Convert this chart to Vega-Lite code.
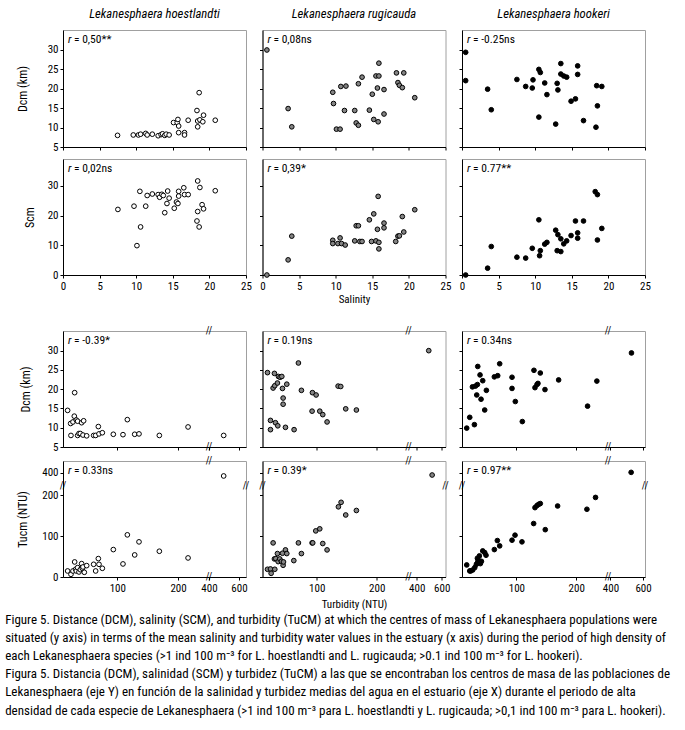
{
"$schema": "https://vega.github.io/schema/vega-lite/v6.json",
"background": "white",
"padding": {"left": 5, "top": 7, "right": 5, "bottom": 5},
"autosize": {"type": "pad"},
"config": {
  "font": "Roboto Condensed, Liberation Sans, sans-serif",
  "view": {"stroke": "#a0a0a0", "strokeWidth": 1},
  "axis": {"grid": false, "domainColor": "#000", "domainWidth": 1, "tickColor": "#000", "tickSize": 3, "tickWidth": 1, "tickCount": 20,
    "labelFont": "Roboto Condensed, Liberation Sans, sans-serif", "labelFontSize": 11, "labelColor": "#000", "labelPadding": 2, "labelFlush": false, "labelOverlap": false,
    "titleFont": "Roboto Condensed, Liberation Sans, sans-serif", "titleFontSize": 12, "titleFontWeight": "normal", "titleColor": "#000"},
  "title": {"font": "Roboto Condensed, Liberation Sans, sans-serif", "color": "#000", "fontWeight": "normal"},
  "text": {"font": "Roboto Condensed, Liberation Sans, sans-serif", "color": "#000", "fontSize": 11.5}
},
"title": {
  "text": [
    "Figure 5. Distance (DCM), salinity (SCM), and turbidity (TuCM) at which the centres of mass of Lekanesphaera populations were",
    "situated (y axis) in terms of the mean salinity and turbidity water values in the estuary (x axis) during the period of high density of",
    "each Lekanesphaera species (>1 ind 100 m⁻³ for L. hoestlandti and L. rugicauda; >0.1 ind 100 m⁻³ for L. hookeri).",
    "Figura 5. Distancia (DCM), salinidad (SCM) y turbidez (TuCM) a las que se encontraban los centros de masa de las poblaciones de",
    "Lekanesphaera (eje Y) en función de la salinidad y turbidez medias del agua en el estuario (eje X) durante el periodo de alta",
    "densidad de cada especie de Lekanesphaera (>1 ind 100 m⁻³ para L. hoestlandti y L. rugicauda; >0,1 ind 100 m⁻³ para L. hookeri)."
  ],
  "orient": "bottom", "anchor": "start", "frame": "bounds", "fontSize": 13, "lineHeight": 18.2, "offset": 4, "dx": -10.5
},
"datasets": {
  "hoe_sal_d": [{"sal":7.45,"dcm":8.0},{"sal":9.6,"dcm":8.1},{"sal":10.3,"dcm":8.1},{"sal":10.6,"dcm":8.3},{"sal":11.3,"dcm":8.5},{"sal":11.5,"dcm":8.1},{"sal":12.2,"dcm":8.3},{"sal":13.0,"dcm":7.9},{"sal":13.4,"dcm":8.2},{"sal":13.6,"dcm":8.4},{"sal":13.9,"dcm":8.0},{"sal":14.1,"dcm":8.3},{"sal":14.5,"dcm":8.1},{"sal":15.1,"dcm":11.3},{"sal":15.6,"dcm":11.3},{"sal":15.7,"dcm":12.1},{"sal":15.8,"dcm":10.4},{"sal":15.8,"dcm":8.7},{"sal":16.6,"dcm":8.7},{"sal":16.6,"dcm":8.1},{"sal":17.1,"dcm":11.9},{"sal":18.3,"dcm":14.4},{"sal":18.4,"dcm":10.2},{"sal":18.4,"dcm":11.7},{"sal":18.6,"dcm":19.0},{"sal":18.7,"dcm":12.0},{"sal":19.2,"dcm":13.2},{"sal":19.1,"dcm":11.5},{"sal":20.8,"dcm":11.9}],
  "hoe_sal_s": [{"sal":7.5,"scm":22.1},{"sal":9.7,"scm":23.2},{"sal":10.5,"scm":28.2},{"sal":10.6,"scm":16.2},{"sal":10.1,"scm":9.9},{"sal":11.3,"scm":23.2},{"sal":11.5,"scm":26.8},{"sal":12.2,"scm":27.3},{"sal":13.0,"scm":27.1},{"sal":13.2,"scm":26.2},{"sal":13.5,"scm":27.2},{"sal":13.7,"scm":26.8},{"sal":13.9,"scm":21.0},{"sal":14.2,"scm":24.1},{"sal":14.3,"scm":28.3},{"sal":14.5,"scm":25.9},{"sal":15.2,"scm":22.5},{"sal":15.5,"scm":24.6},{"sal":15.7,"scm":24.1},{"sal":15.8,"scm":28.2},{"sal":15.8,"scm":26.6},{"sal":16.5,"scm":29.4},{"sal":16.6,"scm":27.1},{"sal":17.1,"scm":27.1},{"sal":18.4,"scm":31.7},{"sal":18.3,"scm":18.2},{"sal":18.4,"scm":21.4},{"sal":18.6,"scm":16.2},{"sal":18.7,"scm":29.5},{"sal":19.0,"scm":23.7},{"sal":19.2,"scm":22.3},{"sal":20.8,"scm":28.4}],
  "rug_sal_d": [{"sal":0.6,"dcm":30.0},{"sal":3.5,"dcm":14.9},{"sal":4.0,"dcm":10.2},{"sal":9.6,"dcm":19.1},{"sal":9.7,"dcm":16.2},{"sal":10.7,"dcm":20.6},{"sal":11.4,"dcm":20.7},{"sal":11.2,"dcm":14.4},{"sal":10.1,"dcm":9.6},{"sal":10.6,"dcm":9.6},{"sal":12.6,"dcm":14.4},{"sal":12.8,"dcm":11.2},{"sal":13.1,"dcm":10.6},{"sal":13.1,"dcm":21.3},{"sal":13.6,"dcm":23.0},{"sal":14.6,"dcm":14.5},{"sal":15.0,"dcm":18.6},{"sal":15.2,"dcm":12.1},{"sal":15.5,"dcm":23.3},{"sal":15.9,"dcm":23.3},{"sal":15.7,"dcm":20.2},{"sal":15.8,"dcm":11.5},{"sal":15.9,"dcm":26.6},{"sal":16.6,"dcm":19.8},{"sal":16.6,"dcm":13.5},{"sal":18.3,"dcm":24.1},{"sal":18.5,"dcm":21.6},{"sal":18.7,"dcm":20.9},{"sal":19.1,"dcm":20.3},{"sal":19.3,"dcm":24.1},{"sal":20.8,"dcm":17.7}],
  "rug_sal_s": [{"sal":0.6,"scm":0},{"sal":3.5,"scm":5.1},{"sal":4.0,"scm":13.1},{"sal":9.6,"scm":11.7},{"sal":9.6,"scm":10.6},{"sal":10.3,"scm":10.6},{"sal":10.6,"scm":12.5},{"sal":10.8,"scm":10.6},{"sal":11.3,"scm":10.1},{"sal":12.6,"scm":11.5},{"sal":12.8,"scm":16.6},{"sal":13.1,"scm":16.6},{"sal":13.3,"scm":11.3},{"sal":13.6,"scm":11.3},{"sal":14.6,"scm":18.6},{"sal":14.9,"scm":11.3},{"sal":15.2,"scm":20.6},{"sal":15.5,"scm":11.5},{"sal":15.7,"scm":15.4},{"sal":15.8,"scm":26.5},{"sal":15.9,"scm":11.0},{"sal":15.9,"scm":8.8},{"sal":16.6,"scm":17.5},{"sal":16.6,"scm":15.9},{"sal":18.2,"scm":11.3},{"sal":18.5,"scm":13.1},{"sal":18.7,"scm":13.2},{"sal":19.1,"scm":19.7},{"sal":19.3,"scm":14.5},{"sal":20.8,"scm":22.0}],
  "hoo_sal_d": [{"sal":0.5,"dcm":29.4},{"sal":0.5,"dcm":22.1},{"sal":3.5,"dcm":19.9},{"sal":4.0,"dcm":14.6},{"sal":7.5,"dcm":22.4},{"sal":8.7,"dcm":20.6},{"sal":9.6,"dcm":20.2},{"sal":9.7,"dcm":22.3},{"sal":10.5,"dcm":25.0},{"sal":10.7,"dcm":24.2},{"sal":10.5,"dcm":12.7},{"sal":11.3,"dcm":21.5},{"sal":11.6,"dcm":18.5},{"sal":12.8,"dcm":10.9},{"sal":13.0,"dcm":21.4},{"sal":13.1,"dcm":19.7},{"sal":13.5,"dcm":26.5},{"sal":13.5,"dcm":23.8},{"sal":13.9,"dcm":23.3},{"sal":14.3,"dcm":23.0},{"sal":14.9,"dcm":16.8},{"sal":15.5,"dcm":17.4},{"sal":15.8,"dcm":25.9},{"sal":15.8,"dcm":23.7},{"sal":16.6,"dcm":11.8},{"sal":18.4,"dcm":20.8},{"sal":19.1,"dcm":20.6},{"sal":18.5,"dcm":15.6},{"sal":18.3,"dcm":10.1}],
  "hoo_sal_s": [{"sal":0.5,"scm":0},{"sal":3.5,"scm":2.3},{"sal":4.0,"scm":9.6},{"sal":7.5,"scm":6.0},{"sal":8.7,"scm":5.7},{"sal":9.6,"scm":9.0},{"sal":10.5,"scm":18.6},{"sal":10.7,"scm":8.2},{"sal":10.6,"scm":6.5},{"sal":11.3,"scm":10.4},{"sal":11.6,"scm":11.0},{"sal":12.8,"scm":15.1},{"sal":13.1,"scm":13.6},{"sal":13.0,"scm":8.2},{"sal":13.5,"scm":12.2},{"sal":13.5,"scm":7.9},{"sal":13.9,"scm":10.5},{"sal":14.3,"scm":11.5},{"sal":14.9,"scm":13.3},{"sal":15.5,"scm":18.2},{"sal":15.8,"scm":14.2},{"sal":15.8,"scm":12.4},{"sal":16.6,"scm":18.2},{"sal":18.2,"scm":28.1},{"sal":18.5,"scm":27.1},{"sal":18.5,"scm":11.8},{"sal":19.1,"scm":15.7}],
  "hoe_tu_d": [{"tu":18.1,"dcm":14.5},{"tu":23.6,"dcm":8.0},{"tu":23.1,"dcm":11.1},{"tu":26.9,"dcm":11.5},{"tu":29.7,"dcm":19.1},{"tu":29.1,"dcm":13.0},{"tu":32.4,"dcm":12.0},{"tu":34.6,"dcm":8.0},{"tu":34.6,"dcm":11.7},{"tu":36.8,"dcm":8.5},{"tu":39.0,"dcm":8.5},{"tu":41.2,"dcm":11.3},{"tu":43.4,"dcm":8.1},{"tu":44.5,"dcm":11.8},{"tu":49.5,"dcm":7.9},{"tu":61.0,"dcm":8.0},{"tu":64.3,"dcm":8.0},{"tu":68.7,"dcm":10.3},{"tu":69.8,"dcm":8.4},{"tu":75.3,"dcm":8.7},{"tu":93.4,"dcm":8.3},{"tu":109.3,"dcm":8.2},{"tu":116.5,"dcm":12.1},{"tu":128.6,"dcm":8.3},{"tu":135.7,"dcm":8.4},{"tu":169.2,"dcm":8.0},{"tu":216.5,"dcm":10.2},{"tu":498,"dcm":8.0}],
  "hoe_tu_t": [{"tu":18.1,"tucm":14.8},{"tu":23.6,"tucm":6.6},{"tu":26.9,"tucm":14.8},{"tu":29.7,"tucm":36.9},{"tu":31.3,"tucm":18.9},{"tu":32.4,"tucm":14.8},{"tu":34.6,"tucm":23.0},{"tu":36.8,"tucm":12.3},{"tu":39.0,"tucm":18.0},{"tu":41.2,"tucm":32.8},{"tu":42.3,"tucm":21.3},{"tu":43.4,"tucm":24.6},{"tu":45.6,"tucm":11.5},{"tu":49.5,"tucm":27.9},{"tu":61.0,"tucm":31.1},{"tu":64.3,"tucm":14.8},{"tu":68.7,"tucm":45.1},{"tu":69.8,"tucm":31.1},{"tu":75.3,"tucm":21.3},{"tu":93.4,"tucm":67.2},{"tu":109.3,"tucm":32.0},{"tu":116.5,"tucm":103.3},{"tu":128.6,"tucm":54.1},{"tu":135.7,"tucm":86.1},{"tu":169.2,"tucm":63.1},{"tu":216.5,"tucm":46.7},{"tu":498,"tucm":383}],
  "rug_tu_d": [{"tu":17.8,"dcm":24.3},{"tu":22.8,"dcm":11.9},{"tu":22.8,"dcm":9.5},{"tu":27.2,"dcm":20.3},{"tu":29.4,"dcm":24.1},{"tu":30.0,"dcm":20.9},{"tu":31.1,"dcm":11.3},{"tu":34.4,"dcm":21.6},{"tu":35.0,"dcm":10.5},{"tu":36.1,"dcm":23.3},{"tu":38.9,"dcm":23.1},{"tu":41.7,"dcm":23.3},{"tu":42.8,"dcm":20.2},{"tu":43.9,"dcm":17.7},{"tu":43.9,"dcm":16.1},{"tu":47.8,"dcm":10.1},{"tu":50.0,"dcm":21.3},{"tu":62.2,"dcm":9.5},{"tu":69.4,"dcm":26.8},{"tu":74.4,"dcm":19.7},{"tu":92.2,"dcm":14.3},{"tu":92.8,"dcm":19.1},{"tu":98.9,"dcm":18.5},{"tu":105.0,"dcm":14.3},{"tu":110.0,"dcm":13.4},{"tu":117.2,"dcm":11.5},{"tu":135.6,"dcm":20.8},{"tu":140.0,"dcm":20.7},{"tu":148.3,"dcm":14.9},{"tu":166.1,"dcm":14.6},{"tu":496,"dcm":30.0}],
  "rug_tu_t": [{"tu":17.8,"tucm":18.9},{"tu":22.8,"tucm":19.7},{"tu":23.9,"tucm":9.0},{"tu":27.2,"tucm":83.6},{"tu":30.0,"tucm":18.9},{"tu":29.4,"tucm":44.3},{"tu":31.7,"tucm":45.1},{"tu":34.4,"tucm":57.4},{"tu":35.6,"tucm":37.7},{"tu":38.3,"tucm":44.3},{"tu":41.1,"tucm":38.5},{"tu":42.8,"tucm":58.2},{"tu":43.9,"tucm":28.7},{"tu":44.5,"tucm":36.9},{"tu":47.8,"tucm":66.4},{"tu":50.0,"tucm":57.4},{"tu":61.7,"tucm":40.2},{"tu":69.4,"tucm":83.6},{"tu":74.4,"tucm":57.4},{"tu":92.2,"tucm":83.6},{"tu":93.3,"tucm":83.6},{"tu":98.3,"tucm":113},{"tu":105.0,"tucm":118},{"tu":110.0,"tucm":82},{"tu":117.2,"tucm":66.4},{"tu":136.1,"tucm":172},{"tu":140.6,"tucm":183},{"tu":148.3,"tucm":152},{"tu":166.1,"tucm":163},{"tu":523,"tucm":388}],
  "hoo_tu_d": [{"tu":17.2,"dcm":9.9},{"tu":22.2,"dcm":12.7},{"tu":30.0,"dcm":10.8},{"tu":26.7,"dcm":20.6},{"tu":31.7,"dcm":20.8},{"tu":35.0,"dcm":21.2},{"tu":33.9,"dcm":18.5},{"tu":35.6,"dcm":25.9},{"tu":39.4,"dcm":23.7},{"tu":41.1,"dcm":17.4},{"tu":43.9,"dcm":22.2},{"tu":47.2,"dcm":14.6},{"tu":50.0,"dcm":19.7},{"tu":63.3,"dcm":23.2},{"tu":68.9,"dcm":23.5},{"tu":72.2,"dcm":26.6},{"tu":92.8,"dcm":23.1},{"tu":92.8,"dcm":20.2},{"tu":98.3,"dcm":16.8},{"tu":110.0,"dcm":11.6},{"tu":129.4,"dcm":24.9},{"tu":131.1,"dcm":20.4},{"tu":134.4,"dcm":21.2},{"tu":136.1,"dcm":21.5},{"tu":140.0,"dcm":24.2},{"tu":147.8,"dcm":19.9},{"tu":170.6,"dcm":22.4},{"tu":218.9,"dcm":15.6},{"tu":234.4,"dcm":22.1},{"tu":529,"dcm":29.4}],
  "hoo_tu_t": [{"tu":17.2,"tucm":29.5},{"tu":22.2,"tucm":14.8},{"tu":23.9,"tucm":14.8},{"tu":27.2,"tucm":17.2},{"tu":30.6,"tucm":23},{"tu":33.3,"tucm":31.1},{"tu":35.0,"tucm":45.9},{"tu":35.0,"tucm":34.4},{"tu":36.1,"tucm":41.8},{"tu":38.3,"tucm":51.6},{"tu":40.0,"tucm":32.8},{"tu":41.7,"tucm":38.5},{"tu":43.9,"tucm":63.9},{"tu":47.2,"tucm":59.8},{"tu":49.4,"tucm":53.3},{"tu":63.3,"tucm":67.2},{"tu":68.3,"tucm":89.3},{"tu":72.2,"tucm":76.2},{"tu":92.8,"tucm":90.2},{"tu":97.8,"tucm":102.5},{"tu":109.4,"tucm":86.1},{"tu":128.9,"tucm":131},{"tu":131.1,"tucm":170},{"tu":134.4,"tucm":175},{"tu":137.2,"tucm":178},{"tu":140,"tucm":180},{"tu":148.3,"tucm":116},{"tu":168.9,"tucm":174},{"tu":217.8,"tucm":166},{"tu":232.2,"tucm":195},{"tu":527,"tucm":402}]
},
"spacing": 20,
"vconcat": [
 {"spacing": 5, "vconcat": [
  {"spacing": 16.5, "bounds": "flush", "hconcat": [
   {"width": 183, "height": 117,
    "title": {"text": "Lekanesphaera hoestlandti", "fontStyle": "italic", "fontSize": 12.7, "offset": 9},
    "layer": [
     {"data": {"name": "hoe_sal_d"}, "mark": {"type": "circle", "fill": "white", "stroke": "#000", "strokeWidth": 1, "size": 22, "opacity": 1},
      "encoding": {
       "x": {"field": "sal", "type": "quantitative", "scale": {"domain": [0, 25], "nice": false, "zero": false}, "axis": {"values": [0,5,10,15,20,25], "tickCount": 20, "labels": false, "title": null}},
       "y": {"field": "dcm", "type": "quantitative", "scale": {"domain": [5, 35.15], "nice": false, "zero": false}, "axis": {"values": [5,10,15,20,25,30], "tickCount": 20, "title": "Dcm (km)", "titlePadding": 18}}}},
     {"data": {"values": [{}]}, "mark": {"type": "text", "text": "r", "fontStyle": "italic", "align": "left", "baseline": "top", "dx": 5, "dy": 4}, "encoding": {"x": {"datum": 0}, "y": {"datum": 35.15}}},
     {"data": {"values": [{}]}, "mark": {"type": "text", "text": "= 0,50**", "align": "left", "baseline": "top", "dx": 11, "dy": 4}, "encoding": {"x": {"datum": 0}, "y": {"datum": 35.15}}}
    ]},
   {"width": 183, "height": 117,
    "title": {"text": "Lekanesphaera rugicauda", "fontStyle": "italic", "fontSize": 12.7, "offset": 9},
    "layer": [
     {"data": {"name": "rug_sal_d"}, "mark": {"type": "circle", "fill": "#848484", "stroke": "#000", "strokeWidth": 1, "size": 22, "opacity": 1},
      "encoding": {
       "x": {"field": "sal", "type": "quantitative", "scale": {"domain": [0, 25], "nice": false, "zero": false}, "axis": {"values": [0,5,10,15,20,25], "tickCount": 20, "labels": false, "title": null}},
       "y": {"field": "dcm", "type": "quantitative", "scale": {"domain": [5, 35.15], "nice": false, "zero": false}, "axis": {"values": [5,10,15,20,25,30], "tickCount": 20, "labels": false, "title": null}}}},
     {"data": {"values": [{}]}, "mark": {"type": "text", "text": "r", "fontStyle": "italic", "align": "left", "baseline": "top", "dx": 5, "dy": 4}, "encoding": {"x": {"datum": 0}, "y": {"datum": 35.15}}},
     {"data": {"values": [{}]}, "mark": {"type": "text", "text": "= 0,08ns", "align": "left", "baseline": "top", "dx": 11, "dy": 4}, "encoding": {"x": {"datum": 0}, "y": {"datum": 35.15}}}
    ]},
   {"width": 183, "height": 117,
    "title": {"text": "Lekanesphaera hookeri", "fontStyle": "italic", "fontSize": 12.7, "offset": 9},
    "layer": [
     {"data": {"name": "hoo_sal_d"}, "mark": {"type": "circle", "fill": "#000", "stroke": "#000", "strokeWidth": 1, "size": 22, "opacity": 1},
      "encoding": {
       "x": {"field": "sal", "type": "quantitative", "scale": {"domain": [0, 25], "nice": false, "zero": false}, "axis": {"values": [0,5,10,15,20,25], "tickCount": 20, "labels": false, "title": null}},
       "y": {"field": "dcm", "type": "quantitative", "scale": {"domain": [5, 35.15], "nice": false, "zero": false}, "axis": {"values": [5,10,15,20,25,30], "tickCount": 20, "labels": false, "title": null}}}},
     {"data": {"values": [{}]}, "mark": {"type": "text", "text": "r", "fontStyle": "italic", "align": "left", "baseline": "top", "dx": 5, "dy": 4}, "encoding": {"x": {"datum": 0}, "y": {"datum": 35.15}}},
     {"data": {"values": [{}]}, "mark": {"type": "text", "text": "= -0.25ns", "align": "left", "baseline": "top", "dx": 11, "dy": 4}, "encoding": {"x": {"datum": 0}, "y": {"datum": 35.15}}}
    ]}
  ]},
  {"spacing": 16.5, "bounds": "flush", "hconcat": [
   {"width": 183, "height": 116,
    "layer": [
     {"data": {"name": "hoe_sal_s"}, "mark": {"type": "circle", "fill": "white", "stroke": "#000", "strokeWidth": 1, "size": 22, "opacity": 1},
      "encoding": {
       "x": {"field": "sal", "type": "quantitative", "scale": {"domain": [0, 25], "nice": false, "zero": false}, "axis": {"values": [0,5,10,15,20,25], "tickCount": 20, "title": null}},
       "y": {"field": "scm", "type": "quantitative", "scale": {"domain": [0, 39.1], "nice": false, "zero": false}, "axis": {"values": [0,10,20,30], "tickCount": 20, "title": "Scm", "titlePadding": 11}}}},
     {"data": {"values": [{}]}, "mark": {"type": "text", "text": "r", "fontStyle": "italic", "align": "left", "baseline": "top", "dx": 5, "dy": 4}, "encoding": {"x": {"datum": 0}, "y": {"datum": 39.1}}},
     {"data": {"values": [{}]}, "mark": {"type": "text", "text": "= 0,02ns", "align": "left", "baseline": "top", "dx": 11, "dy": 4}, "encoding": {"x": {"datum": 0}, "y": {"datum": 39.1}}}
    ]},
   {"width": 183, "height": 116,
    "layer": [
     {"data": {"name": "rug_sal_s"}, "mark": {"type": "circle", "fill": "#848484", "stroke": "#000", "strokeWidth": 1, "size": 22, "opacity": 1},
      "encoding": {
       "x": {"field": "sal", "type": "quantitative", "scale": {"domain": [0, 25], "nice": false, "zero": false}, "axis": {"values": [0,5,10,15,20,25], "tickCount": 20, "title": "Salinity", "titleFontSize": 11, "titlePadding": 2}},
       "y": {"field": "scm", "type": "quantitative", "scale": {"domain": [0, 39.1], "nice": false, "zero": false}, "axis": {"values": [0,10,20,30], "tickCount": 20, "labels": false, "title": null}}}},
     {"data": {"values": [{}]}, "mark": {"type": "text", "text": "r", "fontStyle": "italic", "align": "left", "baseline": "top", "dx": 5, "dy": 4}, "encoding": {"x": {"datum": 0}, "y": {"datum": 39.1}}},
     {"data": {"values": [{}]}, "mark": {"type": "text", "text": "= 0,39*", "align": "left", "baseline": "top", "dx": 11, "dy": 4}, "encoding": {"x": {"datum": 0}, "y": {"datum": 39.1}}}
    ]},
   {"width": 183, "height": 116,
    "layer": [
     {"data": {"name": "hoo_sal_s"}, "mark": {"type": "circle", "fill": "#000", "stroke": "#000", "strokeWidth": 1, "size": 22, "opacity": 1},
      "encoding": {
       "x": {"field": "sal", "type": "quantitative", "scale": {"domain": [0, 25], "nice": false, "zero": false}, "axis": {"values": [0,5,10,15,20,25], "tickCount": 20, "title": null}},
       "y": {"field": "scm", "type": "quantitative", "scale": {"domain": [0, 39.1], "nice": false, "zero": false}, "axis": {"values": [0,10,20,30], "tickCount": 20, "labels": false, "title": null}}}},
     {"data": {"values": [{}]}, "mark": {"type": "text", "text": "r", "fontStyle": "italic", "align": "left", "baseline": "top", "dx": 5, "dy": 4}, "encoding": {"x": {"datum": 0}, "y": {"datum": 39.1}}},
     {"data": {"values": [{}]}, "mark": {"type": "text", "text": "= 0.77**", "align": "left", "baseline": "top", "dx": 11, "dy": 4}, "encoding": {"x": {"datum": 0}, "y": {"datum": 39.1}}}
    ]}
  ]}
 ]},
 {"spacing": 2, "vconcat": [
  {"spacing": 16.5, "bounds": "flush", "hconcat": [
   {"width": 183, "height": 116,
    "layer": [
     {"data": {"name": "hoe_tu_d"}, "mark": {"type": "circle", "fill": "white", "stroke": "#000", "strokeWidth": 1, "size": 22, "opacity": 1},
      "encoding": {
       "x": {"field": "tu", "type": "quantitative", "scale": {"domain": [10.5, 251, 400, 647], "range": [0, 146, 146, 183], "nice": false, "zero": false}, "axis": {"values": [100,200,400,600], "tickCount": 20, "labels": false, "title": null}},
       "y": {"field": "dcm", "type": "quantitative", "scale": {"domain": [5, 35.1], "nice": false, "zero": false}, "axis": {"values": [5,10,15,20,25,30], "tickCount": 20, "title": "Dcm (km)", "titlePadding": 15}}}},
     {"data": {"values": [{}]}, "mark": {"type": "text", "text": "r", "fontStyle": "italic", "align": "left", "baseline": "top", "dx": 5, "dy": 4}, "encoding": {"x": {"datum": 10.5}, "y": {"datum": 35.1}}},
     {"data": {"values": [{}]}, "mark": {"type": "text", "text": "= -0.39*", "align": "left", "baseline": "top", "dx": 11, "dy": 4}, "encoding": {"x": {"datum": 10.5}, "y": {"datum": 35.1}}},
     {"data": {"values": [{}]}, "mark": {"type": "text", "text": "//", "fontSize": 10, "align": "center", "baseline": "middle"}, "encoding": {"x": {"datum": 251}, "y": {"datum": 35.1}}},
     {"data": {"values": [{}]}, "mark": {"type": "text", "text": "//", "fontSize": 10, "align": "center", "baseline": "middle"}, "encoding": {"x": {"datum": 251}, "y": {"datum": 5}}}
    ]},
   {"width": 183, "height": 116,
    "layer": [
     {"data": {"name": "rug_tu_d"}, "mark": {"type": "circle", "fill": "#848484", "stroke": "#000", "strokeWidth": 1, "size": 22, "opacity": 1},
      "encoding": {
       "x": {"field": "tu", "type": "quantitative", "scale": {"domain": [9.5, 253, 334, 630], "range": [0, 146, 146, 183], "nice": false, "zero": false}, "axis": {"values": [100,200,400,600], "tickCount": 20, "labels": false, "title": null}},
       "y": {"field": "dcm", "type": "quantitative", "scale": {"domain": [5, 35.1], "nice": false, "zero": false}, "axis": {"values": [5,10,15,20,25,30], "tickCount": 20, "labels": false, "title": null}}}},
     {"data": {"values": [{}]}, "mark": {"type": "text", "text": "r", "fontStyle": "italic", "align": "left", "baseline": "top", "dx": 5, "dy": 4}, "encoding": {"x": {"datum": 9.5}, "y": {"datum": 35.1}}},
     {"data": {"values": [{}]}, "mark": {"type": "text", "text": "= 0.19ns", "align": "left", "baseline": "top", "dx": 11, "dy": 4}, "encoding": {"x": {"datum": 9.5}, "y": {"datum": 35.1}}},
     {"data": {"values": [{}]}, "mark": {"type": "text", "text": "//", "fontSize": 10, "align": "center", "baseline": "middle"}, "encoding": {"x": {"datum": 253}, "y": {"datum": 35.1}}},
     {"data": {"values": [{}]}, "mark": {"type": "text", "text": "//", "fontSize": 10, "align": "center", "baseline": "middle"}, "encoding": {"x": {"datum": 253}, "y": {"datum": 5}}}
    ]},
   {"width": 183, "height": 116,
    "layer": [
     {"data": {"name": "hoo_tu_d"}, "mark": {"type": "circle", "fill": "#000", "stroke": "#000", "strokeWidth": 1, "size": 22, "opacity": 1},
      "encoding": {
       "x": {"field": "tu", "type": "quantitative", "scale": {"domain": [9.3, 253, 385, 612], "range": [0, 146, 146, 183], "nice": false, "zero": false}, "axis": {"values": [100,200,400,600], "tickCount": 20, "labels": false, "title": null}},
       "y": {"field": "dcm", "type": "quantitative", "scale": {"domain": [5, 35.1], "nice": false, "zero": false}, "axis": {"values": [5,10,15,20,25,30], "tickCount": 20, "labels": false, "title": null}}}},
     {"data": {"values": [{}]}, "mark": {"type": "text", "text": "r", "fontStyle": "italic", "align": "left", "baseline": "top", "dx": 5, "dy": 4}, "encoding": {"x": {"datum": 9.3}, "y": {"datum": 35.1}}},
     {"data": {"values": [{}]}, "mark": {"type": "text", "text": "= 0.34ns", "align": "left", "baseline": "top", "dx": 11, "dy": 4}, "encoding": {"x": {"datum": 9.3}, "y": {"datum": 35.1}}},
     {"data": {"values": [{}]}, "mark": {"type": "text", "text": "//", "fontSize": 10, "align": "center", "baseline": "middle"}, "encoding": {"x": {"datum": 253}, "y": {"datum": 35.1}}},
     {"data": {"values": [{}]}, "mark": {"type": "text", "text": "//", "fontSize": 10, "align": "center", "baseline": "middle"}, "encoding": {"x": {"datum": 253}, "y": {"datum": 5}}}
    ]}
  ]},
  {"spacing": 16.5, "bounds": "flush", "hconcat": [
   {"width": 183, "height": 116,
    "layer": [
     {"data": {"name": "hoe_tu_t"}, "mark": {"type": "circle", "fill": "white", "stroke": "#000", "strokeWidth": 1, "size": 22, "opacity": 1},
      "encoding": {
       "x": {"field": "tu", "type": "quantitative", "scale": {"domain": [10.5, 251, 400, 647], "range": [0, 146, 146, 183], "nice": false, "zero": false}, "axis": {"values": [100,200,400,600], "tickCount": 20, "title": null}},
       "y": {"field": "tucm", "type": "quantitative", "scale": {"domain": [0, 223, 330, 462], "range": [116, 25, 25, 0], "nice": false, "zero": false}, "axis": {"values": [0,100,200,400], "tickCount": 20, "title": "Tucm (NTU)", "titlePadding": 12}}}},
     {"data": {"values": [{}]}, "mark": {"type": "text", "text": "r", "fontStyle": "italic", "align": "left", "baseline": "top", "dx": 5, "dy": 4}, "encoding": {"x": {"datum": 10.5}, "y": {"datum": 462}}},
     {"data": {"values": [{}]}, "mark": {"type": "text", "text": "= 0.33ns", "align": "left", "baseline": "top", "dx": 11, "dy": 4}, "encoding": {"x": {"datum": 10.5}, "y": {"datum": 462}}},
     {"data": {"values": [{}]}, "mark": {"type": "text", "text": "//", "fontSize": 10, "align": "center", "baseline": "middle"}, "encoding": {"x": {"datum": 251}, "y": {"datum": 462}}},
     {"data": {"values": [{}]}, "mark": {"type": "text", "text": "//", "fontSize": 10, "align": "center", "baseline": "middle"}, "encoding": {"x": {"datum": 251}, "y": {"datum": 0}}},
     {"data": {"values": [{}]}, "mark": {"type": "text", "text": "//", "fontSize": 10, "align": "center", "baseline": "middle"}, "encoding": {"x": {"datum": 10.5}, "y": {"datum": 223}}},
     {"data": {"values": [{}]}, "mark": {"type": "text", "text": "//", "fontSize": 10, "align": "center", "baseline": "middle"}, "encoding": {"x": {"datum": 647}, "y": {"datum": 223}}}
    ]},
   {"width": 183, "height": 116,
    "layer": [
     {"data": {"name": "rug_tu_t"}, "mark": {"type": "circle", "fill": "#848484", "stroke": "#000", "strokeWidth": 1, "size": 22, "opacity": 1},
      "encoding": {
       "x": {"field": "tu", "type": "quantitative", "scale": {"domain": [9.5, 253, 334, 630], "range": [0, 146, 146, 183], "nice": false, "zero": false}, "axis": {"values": [100,200,400,600], "tickCount": 20, "title": "Turbidity (NTU)", "titleFontSize": 11, "titlePadding": 5}},
       "y": {"field": "tucm", "type": "quantitative", "scale": {"domain": [0, 223, 330, 462], "range": [116, 25, 25, 0], "nice": false, "zero": false}, "axis": {"values": [0,100,200,400], "tickCount": 20, "labels": false, "title": null}}}},
     {"data": {"values": [{}]}, "mark": {"type": "text", "text": "r", "fontStyle": "italic", "align": "left", "baseline": "top", "dx": 5, "dy": 4}, "encoding": {"x": {"datum": 9.5}, "y": {"datum": 462}}},
     {"data": {"values": [{}]}, "mark": {"type": "text", "text": "= 0.39*", "align": "left", "baseline": "top", "dx": 11, "dy": 4}, "encoding": {"x": {"datum": 9.5}, "y": {"datum": 462}}},
     {"data": {"values": [{}]}, "mark": {"type": "text", "text": "//", "fontSize": 10, "align": "center", "baseline": "middle"}, "encoding": {"x": {"datum": 253}, "y": {"datum": 462}}},
     {"data": {"values": [{}]}, "mark": {"type": "text", "text": "//", "fontSize": 10, "align": "center", "baseline": "middle"}, "encoding": {"x": {"datum": 253}, "y": {"datum": 0}}},
     {"data": {"values": [{}]}, "mark": {"type": "text", "text": "//", "fontSize": 10, "align": "center", "baseline": "middle"}, "encoding": {"x": {"datum": 9.5}, "y": {"datum": 223}}},
     {"data": {"values": [{}]}, "mark": {"type": "text", "text": "//", "fontSize": 10, "align": "center", "baseline": "middle"}, "encoding": {"x": {"datum": 630}, "y": {"datum": 223}}}
    ]},
   {"width": 183, "height": 116,
    "layer": [
     {"data": {"name": "hoo_tu_t"}, "mark": {"type": "circle", "fill": "#000", "stroke": "#000", "strokeWidth": 1, "size": 22, "opacity": 1},
      "encoding": {
       "x": {"field": "tu", "type": "quantitative", "scale": {"domain": [9.3, 253, 385, 612], "range": [0, 146, 146, 183], "nice": false, "zero": false}, "axis": {"values": [100,200,400,600], "tickCount": 20, "title": null}},
       "y": {"field": "tucm", "type": "quantitative", "scale": {"domain": [0, 223, 330, 462], "range": [116, 25, 25, 0], "nice": false, "zero": false}, "axis": {"values": [0,100,200,400], "tickCount": 20, "labels": false, "title": null}}}},
     {"data": {"values": [{}]}, "mark": {"type": "text", "text": "r", "fontStyle": "italic", "align": "left", "baseline": "top", "dx": 5, "dy": 4}, "encoding": {"x": {"datum": 9.3}, "y": {"datum": 462}}},
     {"data": {"values": [{}]}, "mark": {"type": "text", "text": "= 0.97**", "align": "left", "baseline": "top", "dx": 11, "dy": 4}, "encoding": {"x": {"datum": 9.3}, "y": {"datum": 462}}},
     {"data": {"values": [{}]}, "mark": {"type": "text", "text": "//", "fontSize": 10, "align": "center", "baseline": "middle"}, "encoding": {"x": {"datum": 253}, "y": {"datum": 462}}},
     {"data": {"values": [{}]}, "mark": {"type": "text", "text": "//", "fontSize": 10, "align": "center", "baseline": "middle"}, "encoding": {"x": {"datum": 253}, "y": {"datum": 0}}},
     {"data": {"values": [{}]}, "mark": {"type": "text", "text": "//", "fontSize": 10, "align": "center", "baseline": "middle"}, "encoding": {"x": {"datum": 9.3}, "y": {"datum": 223}}},
     {"data": {"values": [{}]}, "mark": {"type": "text", "text": "//", "fontSize": 10, "align": "center", "baseline": "middle"}, "encoding": {"x": {"datum": 612}, "y": {"datum": 223}}}
    ]}
  ]}
 ]}
]
}
